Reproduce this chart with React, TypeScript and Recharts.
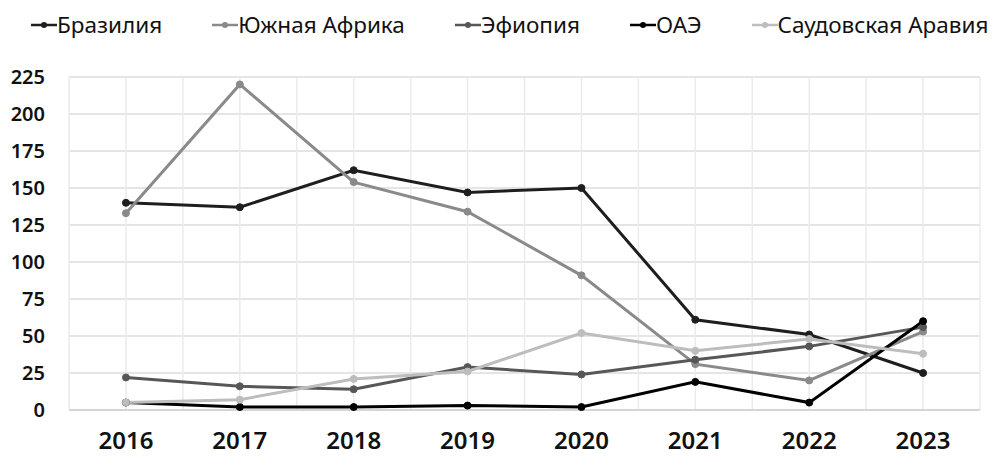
import { LineChart, Line, XAxis, YAxis, CartesianGrid } from "recharts";

const years = [2016, 2017, 2018, 2019, 2020, 2021, 2022, 2023];

const brazil = [140, 137, 162, 147, 150, 61, 51, 25];
const southAfrica = [133, 220, 154, 134, 91, 31, 20, 53];
const ethiopia = [22, 16, 14, 29, 24, 34, 43, 56];
const uae = [5, 2, 2, 3, 2, 19, 5, 60];
const saudi = [5, 7, 21, 26, 52, 40, 48, 38];

const series = [
  { key: "brazil", name: "Бразилия", color: "#1e1e1e", values: brazil },
  { key: "southAfrica", name: "Южная Африка", color: "#8a8a8a", values: southAfrica },
  { key: "ethiopia", name: "Эфиопия", color: "#575757", values: ethiopia },
  { key: "uae", name: "ОАЭ", color: "#000000", values: uae },
  { key: "saudi", name: "Саудовская Аравия", color: "#bdbdbd", values: saudi },
];

const yTicks = [0, 25, 50, 75, 100, 125, 150, 175, 200, 225];
// half steps give the extra vertical grid lines between years
const xTicks = [2015.5, 2016, 2016.5, 2017, 2017.5, 2018, 2018.5, 2019, 2019.5, 2020, 2020.5, 2021, 2021.5, 2022, 2022.5, 2023, 2023.5];

const data = years.map((year, i) => {
  const row: Record<string, number> = { year };
  series.forEach((s) => (row[s.key] = s.values[i]));
  return row;
});

const font = "'Noto Sans', 'DejaVu Sans', sans-serif";

const LegendRow = () => (
  <div
    style={{
      position: "absolute",
      top: 9,
      left: 31,
      display: "flex",
      gap: 50,
      fontFamily: font,
      fontSize: 22.5,
      color: "#111",
      whiteSpace: "nowrap",
    }}
  >
    {series.map((s) => (
      <div key={s.key} style={{ display: "flex", alignItems: "center" }}>
        <svg width={26} height={12} style={{ marginRight: 0 }}>
          <line x1={0} y1={6} x2={26} y2={6} stroke={s.color} strokeWidth={2.5} />
          <circle cx={13} cy={6} r={3} fill={s.color} />
        </svg>
        <span>{s.name}</span>
      </div>
    ))}
  </div>
);

export default function App() {
  return (
    <div style={{ position: "absolute", left: 0, top: 0, width: 1006, height: 459, background: "#fff" }}>
      <LegendRow />
      <LineChart
        width={1006}
        height={459}
        data={data}
        margin={{ top: 77, right: 26, left: 0, bottom: 0 }}
      >
        <CartesianGrid vertical={false} stroke="#dcdcdc" strokeWidth={1.5} />
        <CartesianGrid horizontal={false} stroke="#ebebeb" strokeWidth={1.5} />
        <XAxis
          dataKey="year"
          type="number"
          domain={[2015.5, 2023.5]}
          ticks={xTicks}
          interval={0}
          tickFormatter={(v: number) => (Number.isInteger(v) ? String(v) : "")}
          tickLine={false}
          tickSize={0}
          tickMargin={22}
          axisLine={{ stroke: "#cfcfcf", strokeWidth: 1.5 }}
          height={49}
          tick={{ fill: "#111", fontSize: 24, fontFamily: font, fontWeight: 600 }}
        />
        <YAxis
          domain={[0, 225]}
          ticks={yTicks}
          interval={0}
          width={69}
          tickLine={false}
          axisLine={false}
          tickSize={0}
          tickMargin={24}
          tick={{ fill: "#111", fontSize: 20, fontFamily: font, fontWeight: 600 }}
        />
        {series.map((s) => (
          <Line
            key={s.key}
            dataKey={s.key}
            name={s.name}
            stroke={s.color}
            strokeWidth={3}
            dot={{ r: 3.5, fill: s.color, stroke: s.color, strokeWidth: 1 }}
            isAnimationActive={false}
          />
        ))}
      </LineChart>
    </div>
  );
}
